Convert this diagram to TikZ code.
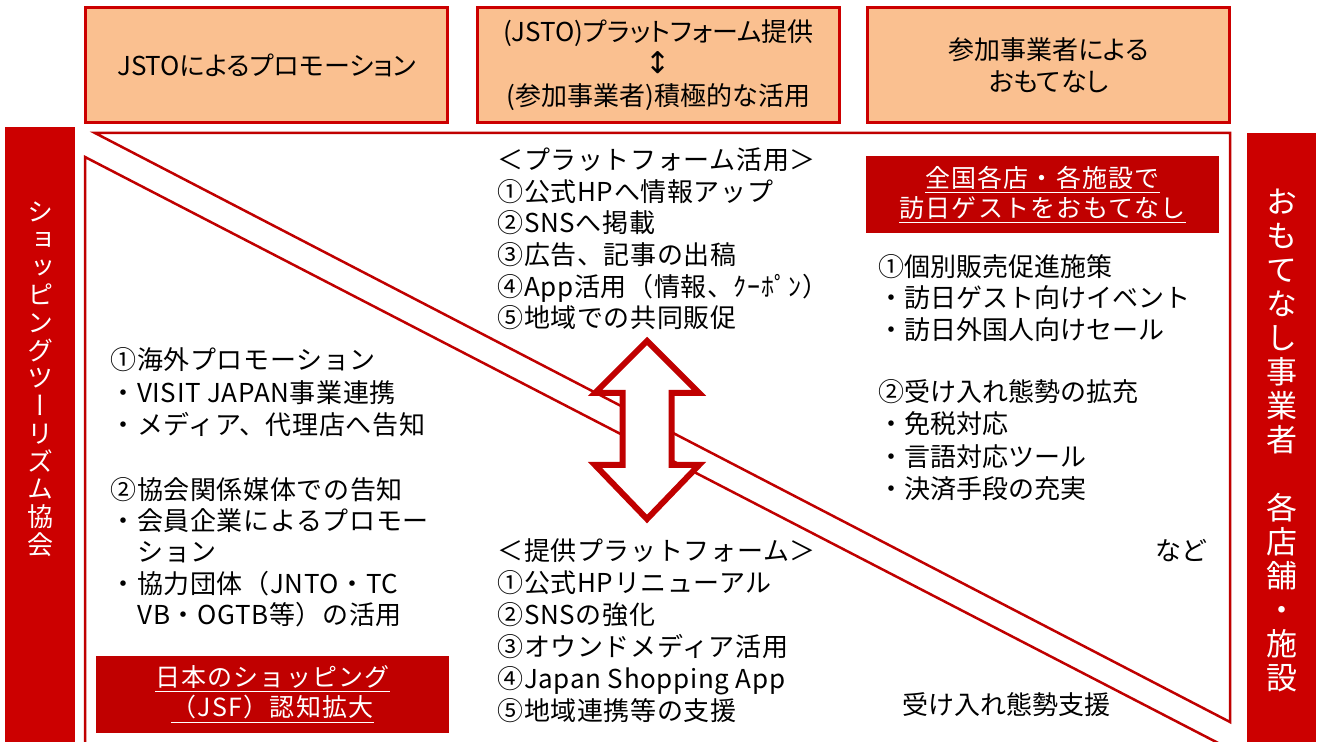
\documentclass[tikz,border=0pt]{standalone}
\usepackage{fontspec}
\setmainfont{Noto Sans CJK JP}
\newfontfamily\boxfont[RawFeature=+palt]{Noto Sans CJK JP}
\newfontfamily\bodyfont[LetterSpace=2.5]{Noto Sans CJK JP}
\newfontfamily\tagfont[LetterSpace=5]{Noto Sans CJK JP}
\newfontfamily\vertfont[RawFeature=+vert]{Noto Sans CJK JP}
\newfontfamily\symfont{DejaVu Sans}
\definecolor{boxred}{HTML}{CC0000}
\definecolor{darkred}{HTML}{C00000}
\definecolor{peach}{HTML}{FAC090}
\tikzset{
  topbox/.style={draw=boxred, fill=peach, line width=1.5pt, minimum width=181pt,
    minimum height=57.5pt, align=center, font=\boxfont\fontsize{13pt}{16pt}\selectfont},
  tagbox/.style={fill=darkred, text=white, minimum width=176.5pt, minimum height=38.5pt,
    align=center, font=\tagfont\fontsize{12.5pt}{15pt}\selectfont},
  band/.style={fill=boxred},
  tri/.style={draw=darkred, line width=1.25pt},
  bigarrow/.style={draw=darkred, fill=white, line width=3pt},
  txtline/.style={anchor=west, inner sep=0pt, text height=11.4pt, text depth=1.6pt},
  bodytxt/.style={txtline, font=\bodyfont\fontsize{13pt}{16pt}\selectfont},
  righttxt/.style={txtline, font=\fontsize{13pt}{16pt}\selectfont},
  vchar/.style={text=white, inner sep=0pt, text height=11.4pt, text depth=1.6pt,
    font=\vertfont\fontsize{13pt}{16pt}\selectfont},
  vcharbig/.style={vchar, text height=13.6pt, text depth=1.9pt,
    font=\vertfont\fontsize{15.5pt}{18pt}\selectfont}
}
\begin{document}
\begin{tikzpicture}[x=0.5pt, y=-0.5pt]
  \clip (0,0) rectangle (1319,742);
  \fill[white] (0,0) rectangle (1319,742);

  % top boxes
  \node[topbox] (promo) at (266.5,65) {JSTOによるプロモーション};
  \node[topbox] (platform) at (658.5,65) {(JSTO)プラットフォーム提供\\{\symfont\fontsize{15pt}{16pt}\selectfont ↕}\\(参加事業者)積極的な活用};
  \node[topbox] (omote) at (1048.5,65) {参加事業者による\\おもてなし};

  % side bands
  \fill[band] (5,127) rectangle (75,742);
  \fill[band] (1247,133) rectangle (1316,742);

  % triangles
  \draw[tri] (95,133) -- (1230,133) -- (1230,722) -- cycle;
  \draw[tri] (85,790) -- (85,157) -- (1309,790) -- cycle;

  % red tags
  \node[tagbox] (tagR) at (1042.5,194.5) {\underline{全国各店・各施設で}\\\underline{訪日ゲストをおもてなし}};
  \node[tagbox] (tagL) at (272.5,694.5) {\underline{日本のショッピング}\\\underline{（JSF）認知拡大}};

  % double arrow
  \draw[bigarrow] (647,341) -- (699,393) -- (671.5,393) -- (671.5,465) -- (699,465)
    -- (647,519) -- (595,465) -- (622.5,465) -- (622.5,393) -- (595,393) -- cycle;

  % platform use
  \foreach \txt [count=\i from 0] in {＜プラットフォーム活用＞, ①公式HPへ情報アップ, ②SNSへ掲載,
      ③広告、記事の出稿, ④App活用（情報、ｸｰﾎﾟﾝ）, ⑤地域での共同販促}
    \node[bodytxt] (use\i) at (497,160+31.6*\i) {\txt};
  % platform given
  \foreach \txt [count=\i from 0] in {＜提供プラットフォーム＞, ①公式HPリニューアル, ②SNSの強化,
      ③オウンドメディア活用, ④Japan Shopping App, ⑤地域連携等の支援}
    \node[bodytxt] (give\i) at (497,551+32*\i) {\txt};

  % association side
  \foreach \x/\y/\txt [count=\i] in {110/360/①海外プロモーション, 110/393/・VISIT JAPAN事業連携,
      110/425/・メディア、代理店へ告知, 110/490/②協会関係媒体での告知, 110/521/・会員企業によるプロモー,
      137/552/ション, 110/584/・協力団体（JNTO・TC, 137/615/VB・OGTB等）の活用}
    \node[bodytxt] (jsa\i) at (\x,\y) {\txt};

  % shop side
  \foreach \y/\txt [count=\i] in {267/①個別販売促進施策, 298/・訪日ゲスト向けイベント,
      330/・訪日外国人向けセール, 392/②受け入れ態勢の拡充, 424/・免税対応, 457/・言語対応ツール,
      489/・決済手段の充実}
    \node[righttxt] (shop\i) at (878,\y) {\txt};
  \node[righttxt] (etc) at (1155,551) {など};
  \node[righttxt] (support) at (902,705) {受け入れ態勢支援};

  % vertical labels
  \foreach \ch [count=\i from 0] in {シ,ョ,ッ,ピ,ン,グ,ツ,ー,リ,ズ,ム,協,会}
    \node[vchar] (assoc\i) at (40,212+27.7*\i) {\ch};
  \foreach \ch [count=\i from 0] in {お,も,て,な,し,事,業,者}
    \node[vcharbig] (host\i) at (1281.5,202+34*\i) {\ch};
  \foreach \ch [count=\i from 0] in {各,店,舗,・,施,設}
    \node[vcharbig] (store\i) at (1281.5,508+34*\i) {\ch};
\end{tikzpicture}
\end{document}
